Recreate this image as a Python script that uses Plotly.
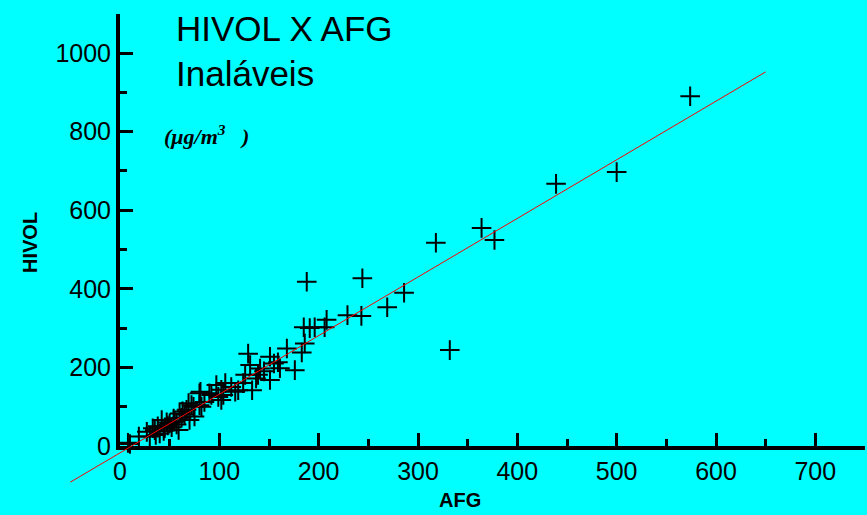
import plotly.graph_objects as go

# AFG (x) vs HIVOL (y), inhalable particles, ug/m3
afg = [574, 500, 439, 364, 377, 318, 332, 244, 188, 286, 269, 243, 229, 208, 206,
       185, 191, 196, 186, 168, 183, 151, 159, 129, 131, 141, 161, 176, 151, 139,
       126, 124, 133, 119, 106, 97, 102, 104, 92, 81, 99, 102, 90, 80, 72,
       80, 74, 82, 67, 69, 60, 54, 70, 75, 50, 42, 45, 40, 59, 27,
       30, 19, 10, 35, 38, 48, 55, 62, 65, 36, 33, 44, 52, 57, 47,
       63, 85, 112, 116, 145, 137, 155, 8]
hivol = [890, 697, 667, 555, 524, 517, 244, 427, 418, 390, 353, 331, 333, 321, 302,
         302, 300, 302, 261, 248, 238, 227, 213, 235, 206, 197, 198, 193, 168, 181,
         181, 160, 142, 142, 160, 155, 143, 130, 130, 138, 125, 117, 134, 134, 104,
         104, 100, 100, 92, 109, 83, 70, 66, 75, 58, 66, 45, 32, 41, 36,
         24, 24, 5, 40, 50, 52, 62, 72, 80, 28, 45, 38, 48, 55, 60,
         88, 112, 150, 138, 190, 172, 210, 8]

# regression line end points, as drawn
fit_x = [-50, 650]
fit_y = [-92, 952]

W, H = 867, 515
BG = "#00FFFF"

# where the visible axes sit, in pixels
X_LEFT, X_RIGHT = 120, 865     # x: 0 .. 750
Y_BOT, Y_TOP = 446, 13.7       # y: 0 .. 1100
X_MAX, Y_MAX = 750, 1100

sx = (X_RIGHT - X_LEFT) / X_MAX
sy = (Y_BOT - Y_TOP) / Y_MAX

fig = go.Figure()

# the fitted line runs past the axes, so it lives on a hidden full-page axis pair
fig.add_trace(go.Scatter(
    x=fit_x, y=fit_y, mode="lines", xaxis="x2", yaxis="y2",
    line=dict(color="#FF0000", width=1), showlegend=False, hoverinfo="skip"))

fig.add_trace(go.Scatter(
    x=afg, y=hivol, mode="markers", cliponaxis=False, showlegend=False,
    marker=dict(symbol="cross-thin", size=14, color="black",
                line=dict(width=2, color="black"))))

tick_font = dict(family="Liberation Sans, Arial", size=25, color="black")

fig.update_layout(
    width=W, height=H,
    margin=dict(l=0, r=0, t=0, b=0),
    paper_bgcolor=BG, plot_bgcolor="rgba(0,0,0,0)",
    xaxis=dict(
        domain=[X_LEFT / W, X_RIGHT / W], range=[0, X_MAX], anchor="y",
        automargin=False,
        showline=True, linewidth=4, linecolor="black",
        ticks="inside", ticklen=13, tickwidth=3, tickcolor="black",
        tickvals=list(range(0, 701, 100)),
        minor=dict(ticks="inside", ticklen=7, tickwidth=3, tickcolor="black", dtick=50, tick0=0),
        showgrid=False, zeroline=False, tickfont=tick_font,
    ),
    yaxis=dict(
        domain=[1 - Y_BOT / H, 1 - Y_TOP / H], range=[0, Y_MAX], anchor="x",
        automargin=False,
        showline=True, linewidth=4, linecolor="black",
        ticks="inside", ticklen=13, tickwidth=3, tickcolor="black",
        tickvals=list(range(0, 1001, 200)),
        minor=dict(ticks="inside", ticklen=7, tickwidth=3, tickcolor="black", dtick=100, tick0=0),
        showgrid=False, zeroline=False, tickfont=tick_font,
    ),
    xaxis2=dict(domain=[0, 1], anchor="y2", visible=False, automargin=False,
                range=[-X_LEFT / sx, (W - X_LEFT) / sx]),
    yaxis2=dict(domain=[0, 1], anchor="x2", visible=False, automargin=False,
                range=[-(H - Y_BOT) / sy, Y_BOT / sy]),
)

title_font = dict(family="Liberation Sans, Arial", size=35, color="black")
fig.add_annotation(text="HIVOL X AFG", xref="paper", yref="paper",
                   x=174 / W, y=1 - 28 / H, xanchor="left", yanchor="middle",
                   showarrow=False, font=title_font)
fig.add_annotation(text="Inaláveis", xref="paper", yref="paper",
                   x=174 / W, y=1 - 74 / H, xanchor="left", yanchor="middle",
                   showarrow=False, font=title_font)
fig.add_annotation(text="<b><i>(μg/m<sup>3</sup>&nbsp;&nbsp;&nbsp;)</i></b>", xref="paper", yref="paper",
                   x=162 / W, y=1 - 135 / H, xanchor="left", yanchor="middle",
                   showarrow=False,
                   font=dict(family="Liberation Serif, Times New Roman", size=22, color="black"))

label_font = dict(family="Liberation Sans, Arial", size=20, color="black")
fig.add_annotation(text="<b>HIVOL</b>", xref="paper", yref="paper",
                   x=30 / W, y=1 - 243 / H, textangle=-90,
                   xanchor="center", yanchor="middle", showarrow=False, font=label_font)
fig.add_annotation(text="<b>AFG</b>", xref="paper", yref="paper",
                   x=460 / W, y=1 - 500 / H,
                   xanchor="center", yanchor="middle", showarrow=False, font=label_font)

# the page's default body margin would shift the chart off the window edge
fig.write_html("out.html", config={"displayModeBar": False},
               post_script="document.body.style.margin='0';")
